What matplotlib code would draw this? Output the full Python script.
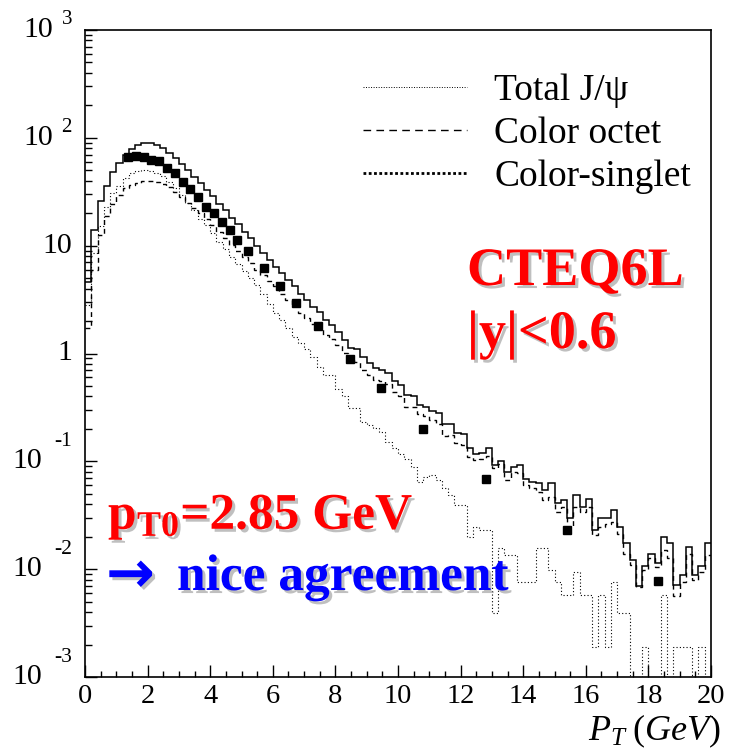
import matplotlib
matplotlib.use("Agg")
import matplotlib.pyplot as plt
import matplotlib.patheffects as pe
from matplotlib.lines import Line2D
from matplotlib.ticker import LogLocator, MultipleLocator, NullFormatter
import matplotlib.transforms as mtransforms
import numpy as np

# ---------------- data ----------------
bin_lo, bin_hi, n_bins = 0.0, 20.0, 100

total = [4.6, 14.0, 25.7, 36, 48, 59, 69, 79, 86, 89,
         89, 86, 80, 73, 65, 57.5, 50, 43.6, 38, 33,
         28.8, 24.5, 21.4, 18.2, 15.8, 13.5, 11.7, 10.0, 8.6, 7.4,
         6.3, 5.6, 4.8, 4.2, 3.6, 3.16, 2.7, 2.44, 2.04, 1.83,
         1.58, 1.33, 1.13, 1.10, 0.93, 0.81, 0.73, 0.70, 0.66, 0.55,
         0.51, 0.41, 0.40, 0.33, 0.32, 0.29, 0.28, 0.22, 0.224, 0.184,
         0.179, 0.132, 0.118, 0.120, 0.132, 0.092, 0.101, 0.080, 0.089, 0.092,
         0.069, 0.065, 0.063, 0.054, 0.063, 0.041, 0.044, 0.030, 0.049, 0.038,
         0.045, 0.023, 0.030, 0.030, 0.035, 0.0245, 0.0175, 0.0121, 0.0070, 0.0107,
         0.0138, 0.0115, 0.0197, 0.0174, 0.0071, 0.0088, 0.0162, 0.0088, 0.0107, 0.0175]

color_octet = [1.72, 6.0, 12.6, 19, 24.5, 29.5, 33.9, 36.3, 38.5, 39.4,
               39.4, 38.9, 37.2, 34.7, 31.6, 28.2, 25.1, 22.4, 20, 17.8,
               15.5, 13.5, 11.7, 10.2, 8.9, 7.8, 6.9, 6.0, 5.3, 4.7,
               4.2, 3.6, 3.16, 2.75, 2.4, 2.14, 1.86, 1.70, 1.48, 1.35,
               1.20, 1.02, 0.87, 0.83, 0.70, 0.63, 0.57, 0.55, 0.52, 0.44,
               0.40, 0.32, 0.316, 0.275, 0.263, 0.24, 0.224, 0.17, 0.174, 0.148,
               0.143, 0.110, 0.102, 0.106, 0.111, 0.086, 0.095, 0.067, 0.079, 0.078,
               0.060, 0.056, 0.052, 0.044, 0.047, 0.034, 0.038, 0.0247, 0.038, 0.034,
               0.038, 0.0207, 0.0247, 0.026, 0.0275, 0.0214, 0.0138, 0.0109, 0.0069, 0.0098,
               0.0126, 0.0105, 0.0151, 0.0126, 0.0056, 0.0076, 0.0138, 0.0079, 0.0095, 0.0135]

color_singlet = [2.8, 8.5, 15.1, 22.9, 31, 36, 42.7, 47.4, 49.5, 50,
                 49.5, 47.4, 44.2, 38.9, 33.9, 29.5, 24.8, 21.4, 17.8, 15.5,
                 13.1, 10.9, 9.3, 7.9, 6.8, 5.8, 5.0, 4.3, 3.6, 2.9,
                 2.36, 2.04, 1.71, 1.43, 1.24, 1.11, 0.93, 0.75, 0.63, 0.63,
                 0.47, 0.40, 0.31, 0.31, 0.233, 0.217, 0.202, 0.188, 0.151, 0.132,
                 0.118, 0.106, 0.089, 0.065, 0.071, 0.074, 0.067, 0.056, 0.049, 0.039,
                 0.039, 0.020, 0.0247, 0.023, 0.023, 0.0039, 0.0156, 0.0135, 0.0135, 0.0076,
                 0.0076, 0.0076, 0.0156, 0.0156, 0.0098, 0.0076, 0.0058, 0.0058, 0.0094, 0.0058,
                 0.0058, 0.0019, 0.0058, 0.0019, 0.0076, 0.0039, 0.0039, 0.0, 0.0, 0.0019,
                 0.0, 0.0, 0.0058, 0.0, 0.0019, 0.0019, 0.0019, 0.0, 0.0019, 0.0]

data_pt = [1.37, 1.62, 1.87, 2.12, 2.37, 2.62, 2.87, 3.12, 3.37, 3.62,
           3.87, 4.12, 4.37, 4.62, 4.87, 5.22, 5.72, 6.23, 6.73, 7.45,
           8.47, 9.46, 10.8, 12.8, 15.4, 18.3]
data_val = [66.8, 68, 66.8, 62, 61.4, 52, 46.8, 39, 33.5, 28,
            22.9, 20, 16.4, 14.1, 11.4, 8.9, 6.2, 4.25, 2.92, 1.81,
            0.89, 0.474, 0.20, 0.069, 0.023, 0.0078]

x_major = [0, 2, 4, 6, 8, 10, 12, 14, 16, 18, 20]
y_exps = [3, 2, 1, 0, -1, -2, -3]
legend_labels = ["Total J/\u03c8", "Color octet", "Color-singlet"]

# ---------------- figure ----------------
W, H = 729, 753
fig = plt.figure(figsize=(W / 100, H / 100), dpi=100)
ax = fig.add_axes([85 / W, 1 - 677 / H, (711 - 85) / W, (677 - 30) / H])

serif = ["Liberation Serif", "DejaVu Serif"]
plt.rcParams["mathtext.fontset"] = "custom"
plt.rcParams["mathtext.rm"] = "Liberation Serif"
plt.rcParams["mathtext.it"] = "Liberation Serif:italic"
plt.rcParams["mathtext.bf"] = "Liberation Serif:bold"

edges = np.linspace(bin_lo, bin_hi, n_bins + 1)
ax.set_yscale("log", nonpositive="clip")
ax.stairs(total, edges, baseline=None, color="black", lw=1.1)
ax.stairs(color_octet, edges, baseline=None, color="black", lw=1.0,
          linestyle=(0, (3.5, 2.8)))
ax.stairs(color_singlet, edges, baseline=None, color="black", lw=0.8,
          linestyle=(0, (1, 2)))
ax.plot(data_pt, data_val, linestyle="none", marker="s", color="black",
        markersize=5.3)

ax.set_xlim(0, 20)
ax.set_ylim(1e-3, 1e3)

for s in ax.spines.values():
    s.set_linewidth(1.2)

ax.set_xticks(x_major)
ax.xaxis.set_minor_locator(MultipleLocator(0.5))
ax.tick_params(axis="x", which="major", direction="in", length=8.6, width=1.0,
               top=False, pad=5, labelsize=20.5)
ax.tick_params(axis="x", which="minor", direction="in", length=4.3, width=1.0, top=False)
for lab in ax.get_xticklabels():
    lab.set_family(serif)

ax.set_yticks([10.0 ** e for e in y_exps])
ax.yaxis.set_minor_locator(LogLocator(base=10, subs=np.arange(2, 10)))
ax.yaxis.set_minor_formatter(NullFormatter())
ax.set_yticklabels([])
ax.tick_params(axis="y", which="major", direction="in", length=8.6, width=1.0, right=False)
ax.tick_params(axis="y", which="minor", direction="in", length=5.0, width=1.0, right=False)

# ROOT-style y labels: whole label right aligned ~13 px left of the axis
ytrans = ax.get_yaxis_transform()
def px_off(dx, dy):
    return mtransforms.offset_copy(ytrans, fig=fig, x=dx * 72 / 100, y=dy * 72 / 100,
                                   units="points")
for e in y_exps:
    y = 10.0 ** e
    if e == 0:
        ax.text(0, y, "1", transform=px_off(-13, 0), ha="right", va="center",
                fontsize=21.5, family=serif)
    elif e == 1:
        ax.text(0, y, "10", transform=px_off(-13, 0), ha="right", va="center",
                fontsize=21.5, family=serif)
    elif e > 1:
        ax.text(0, y, "10", transform=px_off(-32, 0), ha="right", va="center",
                fontsize=21.5, family=serif)
        ax.text(0, y, str(e), transform=px_off(-13, 10), ha="right", va="center",
                fontsize=15, family=serif)
    else:
        ax.text(0, y, "10", transform=px_off(-43, 0), ha="right", va="center",
                fontsize=21.5, family=serif)
        ax.text(0, y, str(e), transform=px_off(-13, 20), ha="right", va="center",
                fontsize=15.5, family=serif)

# x axis title
fig.text(721 / W, 1 - 740 / H, r"$P_T\;(GeV)$", ha="right", va="baseline",
         fontsize=26)

# legend (styles as drawn in the reference legend box)
handles = [
    Line2D([], [], color="black", lw=0.7, linestyle=(0, (1, 1.6))),
    Line2D([], [], color="black", lw=1.0, linestyle=(0, (5.5, 3.8))),
    Line2D([], [], color="black", lw=2.0, linestyle=(0, (1, 0.9))),
]
leg = fig.legend(handles, legend_labels, loc="upper left",
                 bbox_to_anchor=(363 / W, 1 - 74 / H), frameon=False,
                 prop={"family": serif, "size": 27}, handlelength=2.78,
                 handletextpad=0.72, labelspacing=0.22, borderpad=0,
                 borderaxespad=0)

shadow = [pe.withSimplePatchShadow(offset=(2.2, -2.2), shadow_rgbFace=(0.55, 0.55, 0.55),
                                   alpha=0.55)]
fig.text(467 / W, 1 - 285 / H, "CTEQ6L", color="red", fontweight="bold",
         family=serif, fontsize=39, ha="left", va="baseline", path_effects=shadow)
fig.text(467 / W, 1 - 348 / H, "|y|<0.6", color="red", fontweight="bold",
         family=serif, fontsize=39, ha="left", va="baseline", path_effects=shadow)
fig.text(108 / W, 1 - 529 / H, r"$\mathbf{p}_{\mathbf{T0}}$=2.85 GeV", color="red",
         fontweight="bold", family=serif, fontsize=37, ha="left", va="baseline",
         path_effects=shadow)
fig.text(106 / W, 1 - 592 / H, "\u2192", color="blue",
         fontweight="bold", family=["DejaVu Sans"], fontsize=42, ha="left",
         va="baseline", path_effects=shadow)
fig.text(177 / W, 1 - 590 / H, "nice agreement", color="blue",
         fontweight="bold", family=serif, fontsize=37, ha="left", va="baseline",
         path_effects=shadow)

fig.savefig("out.png", dpi=100, facecolor="white")
